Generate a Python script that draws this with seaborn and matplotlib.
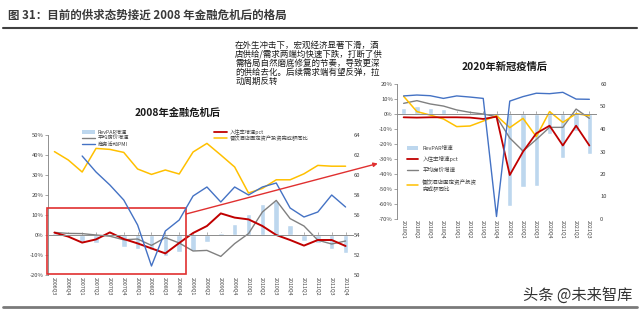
import pandas as pd
import seaborn as sns
import matplotlib.pyplot as plt
from matplotlib.patches import Patch, Rectangle, ConnectionPatch
from matplotlib.lines import Line2D
from matplotlib.ticker import FuncFormatter, MultipleLocator

sns.set_style("white")
plt.rcParams['font.family'] = ['Noto Sans CJK SC', 'DejaVu Sans']
plt.rcParams['axes.unicode_minus'] = False

# 2008 panel (left axis %, PMI on right axis)
q_2008 = ['2006Q3', '2006Q4', '2007Q1', '2007Q2', '2007Q3', '2007Q4', '2008Q1', '2008Q2',
          '2008Q3', '2008Q4', '2009Q1', '2009Q2', '2009Q3', '2009Q4', '2010Q1', '2010Q2',
          '2010Q3', '2010Q4', '2011Q1', '2011Q2', '2011Q3', '2011Q4']
revpar_08 = [1.0, 0.4, -3.7, -4.2, 0.3, -5.8, -7.0, -7.5, -10.3, -8.7, -8.0, -3.5,
             1.2, 5.3, 10.7, 15.3, 17.0, 5.0, -2.8, -4.0, -7.0, -9.0]
occ_08 = [1.2, -0.8, -3.8, -2.2, 1.3, -2.0, -4.2, -6.7, -9.2, -4.0, 1.0, 4.5,
          10.8, 8.7, 7.8, 4.5, 0.0, -2.5, -5.3, -2.5, -2.5, -5.5]
adr_08 = [1.3, 0.8, 0.7, 0.0, -0.6, -2.4, -2.0, -5.2, -1.3, -4.0, -8.0, -7.7,
          -10.7, -4.3, 0.7, 11.5, 17.3, 8.2, 4.5, -2.6, -4.5, -3.0]
invest_08 = [41.7, 37.5, 31.5, 43.3, 42.8, 41.3, 33.0, 30.3, 32.5, 30.5, 41.5, 45.8,
             40.0, 34.0, 21.0, 23.3, 27.6, 27.6, 30.6, 34.8, 34.4, 34.4]
pmi_08 = [None, None, 61.9, 60.3, 59.0, 57.5, 55.0, 50.9, 54.4, 55.5, 57.9, 58.8,
          57.3, 58.8, 58.0, 58.8, 59.2, 56.7, 55.8, 56.3, 58.0, 56.8]

# 2020 panel
q_2020 = ['2018Q1', '2018Q2', '2018Q3', '2018Q4', '2019Q1', '2019Q2', '2019Q3', '2019Q4',
          '2020Q1', '2020Q2', '2020Q3', '2020Q4', '2021Q1', '2021Q2', '2021Q3']
revpar_20 = [4.2, 5.5, 4.2, 3.0, 0.5, -0.5, -1.0, -2.0, -61.0, -48.4, -47.8, -13.6, -29.0, -11.3, -26.7]
occ_20 = [-2.2, -2.4, -2.2, -2.2, -2.2, -2.4, -3.3, -1.8, -40.7, -25.1, -12.9, -7.8, -21.0, -7.8, -21.0]
adr_20 = [7.1, 8.9, 6.7, 5.3, 2.7, 1.1, 0.0, -1.8, -16.0, -24.7, -17.0, -8.9, -8.9, 3.3, -2.9]
invest_20 = [11.8, 1.6, -0.7, -3.3, -8.4, -8.0, -4.7, -1.1, -9.1, -2.9, -15.1, 1.6, -5.6, 0.2, -1.1]
pmi_20 = [54.7, 55.1, 54.8, 53.6, 54.7, 54.2, 53.6, 1.1, 52.4, 54.4, 55.9, 55.7, 56.3, 53.3, 53.2]

note_lines = ['在外生冲击下，宏观经济显著下滑，酒', '店供给/需求两端均快速下跌，打断了供',
              '需格局自然磨底修复的节奏，导致更深', '的供给去化。后续需求端有望反弹，拉',
              '动周期反转']

C_BAR = '#BDD7EE'
C_RED = '#C00000'
C_GRAY = '#808080'
C_YEL = '#FFC000'
C_BLUE = '#4472C4'
C_TXT = '#404040'

fig = plt.figure(figsize=(6.4, 3.12), dpi=100)
W, H = 640, 312


def panel(rect, quarters, revpar, occ, adr, invest, pmi, ylim, rlim, rstep, xpad, rpad, red_lw):
    ax = fig.add_axes(rect)
    df = pd.DataFrame({'pos': range(len(quarters)), 'revpar': revpar, 'occ': occ,
                       'adr': adr, 'invest': invest, 'pmi': pd.to_numeric(pd.Series(pmi))})
    sns.barplot(data=df, x='pos', y='revpar', color=C_BAR, saturation=1, width=0.4,
                errorbar=None, ax=ax)
    sns.lineplot(data=df, x='pos', y='adr', color=C_GRAY, lw=1.0, estimator=None, ax=ax)
    sns.lineplot(data=df, x='pos', y='invest', color=C_YEL, lw=1.1, estimator=None, ax=ax)
    sns.lineplot(data=df, x='pos', y='occ', color=C_RED, lw=red_lw, estimator=None, ax=ax)
    axr = ax.twinx()
    sns.lineplot(data=df, x='pos', y='pmi', color=C_BLUE, lw=1.0, estimator=None, ax=axr)

    ax.set_xlim(-0.5, len(quarters) - 0.5)
    ax.set_ylim(*ylim)
    ax.yaxis.set_major_locator(MultipleLocator(10))
    ax.yaxis.set_major_formatter(FuncFormatter(lambda v, p: f"{v:.0f}%"))
    axr.set_ylim(*rlim)
    axr.yaxis.set_major_locator(MultipleLocator(rstep))
    for a in (ax, axr):
        a.set_xlabel('')
        a.set_ylabel('')
        for s in a.spines.values():
            s.set_visible(False)
    ax.spines['left'].set_visible(True)
    ax.spines['left'].set_color('#7f7f7f')
    ax.spines['left'].set_linewidth(0.6)
    ax.spines['bottom'].set_visible(True)
    ax.spines['bottom'].set_position(('data', 0))
    ax.spines['bottom'].set_color('#8c8c8c')
    ax.spines['bottom'].set_linewidth(0.7)
    ax.set_xticks(range(len(quarters)))
    ax.set_xticklabels(quarters, rotation=-90)
    ax.tick_params(axis='x', direction='in', length=2, width=0.5, color='#8c8c8c',
                   pad=xpad, labelsize=3.8, labelcolor=C_TXT)
    ax.tick_params(axis='y', direction='out', length=2, width=0.5, color='#7f7f7f',
                   pad=1, labelsize=4.2, labelcolor=C_TXT)
    ax.tick_params(left=True, bottom=True)
    axr.tick_params(axis='y', length=0, pad=rpad, labelsize=4.2, labelcolor=C_TXT)
    return ax, axr


axL, axLr = panel([47.5 / W, (H - 275) / H, 305 / W, 140 / H], q_2008, revpar_08, occ_08,
                  adr_08, invest_08, pmi_08, (-20, 50), (50, 64), 2, 30, 1, 1.4)
axR, axRr = panel([397 / W, (H - 219) / H, 199 / W, 135 / H], q_2020, revpar_20, occ_20,
                  adr_20, invest_20, pmi_20, (-70, 20), (0, 60), 10, 76, 3, 1.3)

# legends
h_bar = Patch(facecolor=C_BAR, edgecolor='none')
h_red = Line2D([], [], color=C_RED, lw=1.3)
h_gray = Line2D([], [], color=C_GRAY, lw=1.0)
h_yel = Line2D([], [], color=C_YEL, lw=1.1)
h_blue = Line2D([], [], color=C_BLUE, lw=1.0)

axL.legend([h_bar, h_gray, h_blue, h_red, h_yel],
           ['RevPAR增速', '平均房价增速', '商务活动PMI', '入住率增速pct', '餐饮酒店固定资产投资完成额同比'],
           ncol=2, loc='upper left', bbox_to_anchor=(0.105, 1.06), frameon=False,
           fontsize=3.8, handlelength=2.4, handletextpad=0.6, labelspacing=0.15,
           columnspacing=16, borderpad=0, labelcolor=C_TXT)
axR.legend([h_bar, h_red, h_gray, h_yel],
           ['RevPAR增速', '入住率增速pct', '平均房价增速', '餐饮酒店固定资产投资\n完成额同比'],
           loc='upper left', bbox_to_anchor=(0.035, 0.565), frameon=False,
           fontsize=4, handlelength=2.0, handletextpad=0.8, labelspacing=1.0,
           borderpad=0, labelcolor=C_TXT)

# highlight box on the 2008 panel and arrow to the 2020 panel
end_pos = q_2008.index('2008Q4') + 0.5
axL.add_patch(Rectangle((-0.55, -19.5), end_pos + 0.55, 33, fill=False, ec='#E03030',
                        lw=1.2, clip_on=False, zorder=5))
con = ConnectionPatch(xyA=(end_pos, 10.5), coordsA=axL.transData,
                      xyB=(-1.95, -33), coordsB=axR.transData,
                      arrowstyle='-|>', color='#E03030', lw=1.0, mutation_scale=6)
fig.add_artist(con)

# titles and texts
fig.text(177.5 / W, 1 - 113 / H, '2008年金融危机后', ha='center', va='center',
         fontsize=7.4, fontweight='bold', color='#1a1a1a')
fig.text(504.5 / W, 1 - 67 / H, '2020年新冠疫情后', ha='center', va='center',
         fontsize=7.4, fontweight='bold', color='#1a1a1a')
for k, line in enumerate(note_lines):
    fig.text(235 / W, 1 - (45 + 9 * k) / H, line, ha='left', va='center',
             fontsize=6.1, color='#1a1a1a')
fig.text(8 / W, 1 - 15.5 / H, '图 31：目前的供求态势接近 2008 年金融危机后的格局',
         ha='left', va='center', fontsize=8.3, fontweight='bold', color='#3a3a3a')
fig.add_artist(Line2D([3 / W, 637 / W], [1 - 28 / H, 1 - 28 / H], transform=fig.transFigure,
                      color='#404040', lw=1.5))
fig.add_artist(Line2D([3 / W, 637 / W], [1 - 307 / H, 1 - 307 / H], transform=fig.transFigure,
                      color='#7a7a7a', lw=2))
fig.text(632 / W, 1 - 295 / H, '头条 @未来智库', ha='right', va='center',
         fontsize=11, color='#333333')

fig.savefig('out.png', dpi=100)
